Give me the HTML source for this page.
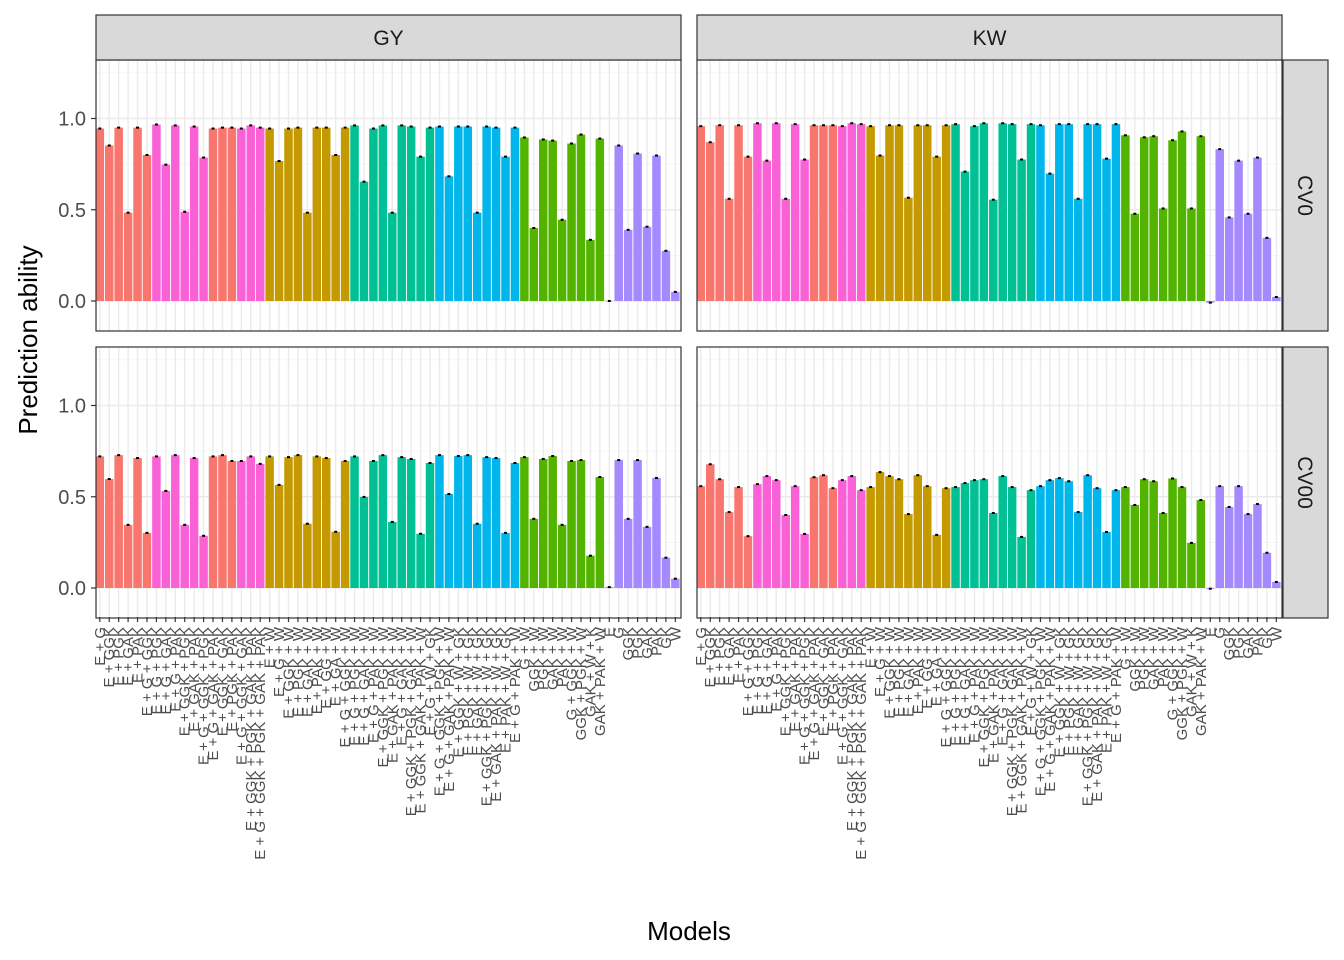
<!DOCTYPE html>
<html><head><meta charset="utf-8"><style>
body{margin:0;background:#fff}
svg{display:block;font-family:"Liberation Sans",sans-serif}
</style></head><body>
<svg id="chart" width="1344" height="960" xmlns="http://www.w3.org/2000/svg"></svg>
<script>
const facetCols = ["GY","KW"];
const facetRows = ["CV0","CV00"];
const groupColors = ["#F8766D","#FB61D7","#C49A00","#00C094","#00B6EB","#53B400","#A58AFF"];
const barGroups = [0,0,0,0,0,0,1,1,1,1,1,1,0,0,0,1,1,1,2,2,2,2,2,2,2,2,2,3,3,3,3,3,3,3,3,3,4,4,4,4,4,4,4,4,4,5,5,5,5,5,5,5,5,5,6,6,6,6,6,6,6,6];
const models = ["E + G","E + GGK","E + PGK","E + GAK","E + PAK","E + G + GGK","E + G + PGK","E + G + GAK","E + G + PAK","E + GGK + PGK","E + GAK + PAK","E + G + GGK + PGK","E + G + GAK + PAK","E + GGK + GAK","E + PGK + PAK","E + G + GGK + GAK","E + GGK + PGK + GAK + PAK","E + G + GGK + PGK + GAK + PAK",
"E + W","E + G + W","E + GGK + W","E + PGK + W","E + GAK + W","E + PAK + W","E + GG + W","E + GA + W","E + G + GGK + W",
"E + G + PGK + W","E + G + GAK + W","E + G + PAK + W","E + GGK + PGK + W","E + GAK + PAK + W","E + G + GAK + W","E + GGK + PGK + GAK + W","E + GGK + GAK + PAK + W","E + G + W + GK",
"E + G + GGK + PGK + W","E + G + GAK + PAK + W","E + GGK + W + GK","E + PGK + W + GK","E + GAK + W + GK","E + GGK + PGK + W + GK","E + GAK + PAK + W + GK","E + PAK + W + GK","E + G + PAK + W",
"G + W","GGK + W","PGK + W","GAK + W","PAK + W","G + GGK + W","GGK + PGK + W","GAK + W + K","GAK + PAK + W",
"E","G","GGK","PGK","GAK","PAK","GK","W"];
const gyCV0 = [0.945,0.852,0.95,0.484,0.95,0.80,0.967,0.747,0.962,0.489,0.956,0.786,0.945,0.95,0.95,0.945,0.962,0.95, 0.945,0.767,0.945,0.95,0.484,0.95,0.95,0.80,0.95, 0.962,0.654,0.945,0.962,0.484,0.962,0.956,0.791,0.95, 0.956,0.683,0.956,0.956,0.484,0.956,0.95,0.791,0.95, 0.896,0.40,0.885,0.879,0.445,0.863,0.912,0.335,0.89, 0.0,0.852,0.39,0.808,0.407,0.797,0.275,0.05];
const kwCV0 = [0.958,0.87,0.963,0.56,0.963,0.791,0.974,0.769,0.974,0.56,0.969,0.775,0.963,0.963,0.963,0.958,0.974,0.969, 0.958,0.797,0.963,0.963,0.566,0.963,0.963,0.791,0.963, 0.969,0.709,0.958,0.974,0.555,0.974,0.969,0.775,0.969, 0.963,0.698,0.969,0.969,0.56,0.969,0.969,0.78,0.969, 0.908,0.478,0.897,0.903,0.507,0.881,0.929,0.507,0.903, -0.009,0.832,0.458,0.769,0.478,0.786,0.346,0.022];
const gyCV00 = [0.721,0.597,0.728,0.346,0.712,0.302,0.721,0.532,0.728,0.346,0.712,0.286,0.721,0.728,0.696,0.696,0.721,0.68, 0.721,0.565,0.717,0.728,0.352,0.721,0.712,0.308,0.696, 0.721,0.499,0.696,0.728,0.362,0.717,0.707,0.297,0.685, 0.728,0.515,0.723,0.728,0.352,0.717,0.712,0.302,0.685, 0.717,0.379,0.707,0.723,0.346,0.696,0.701,0.177,0.608, 0.005,0.701,0.379,0.701,0.335,0.603,0.166,0.051];
const kwCV00 = [0.558,0.678,0.596,0.416,0.553,0.284,0.569,0.613,0.591,0.4,0.558,0.296,0.607,0.618,0.547,0.591,0.613,0.536, 0.553,0.635,0.613,0.596,0.405,0.618,0.558,0.291,0.547, 0.553,0.575,0.591,0.596,0.411,0.613,0.553,0.28,0.536, 0.558,0.591,0.602,0.585,0.416,0.618,0.547,0.307,0.536, 0.553,0.455,0.596,0.585,0.411,0.6,0.553,0.247,0.482, -0.004,0.558,0.444,0.558,0.405,0.46,0.193,0.033];
const yTicks = [0.0,0.5,1.0];
const yTickLabels = ["0.0","0.5","1.0"];
const yMinor = [0.25,0.75,1.25];

const NS="http://www.w3.org/2000/svg";
const svg=document.getElementById('chart');
function mk(tag,attrs,parent){const e=document.createElementNS(NS,tag);for(const k in attrs)e.setAttribute(k,attrs[k]);(parent||svg).appendChild(e);return e;}
const panelX=[96,697], panelW=585;
const panelY=[60,347], panelH=271;
const zeroY=[301,588], pxPerUnit=182.5;
const panelData=[[gyCV0,kwCV0],[gyCV00,kwCV00]];
const step=9.435, firstOff=3.8, barW=8.5;
function xScale(c,i){return panelX[c]+firstOff+step*i;}
function yScale(r,v){return zeroY[r]-v*pxPerUnit;}

for(let r=0;r<2;r++)for(let c=0;c<2;c++){
  const g=mk('g',{});
  
  
  const x0=panelX[c],y0=panelY[r];
  mk('rect',{x:x0,y:y0,width:panelW,height:panelH,fill:'#fff'},g);
  yMinor.forEach(v=>{const y=yScale(r,v);if(y>y0&&y<y0+panelH)mk('line',{x1:x0,x2:x0+panelW,y1:y,y2:y,stroke:'#f3f3f3','stroke-width':0.7},g);});
  for(let i=0;i<models.length;i++){const x=xScale(c,i);mk('line',{x1:x,x2:x,y1:y0,y2:y0+panelH,stroke:'#ebebeb','stroke-width':1.4},g);}
  yTicks.forEach(v=>{const y=yScale(r,v);mk('line',{x1:x0,x2:x0+panelW,y1:y,y2:y,stroke:'#ebebeb','stroke-width':1.4},g);});
  const vals=panelData[r][c];
  vals.forEach((v,i)=>{
    const x=xScale(c,i), y=yScale(r,v), y0b=yScale(r,0);
    const b=mk('rect',{x:x-barW/2,y:Math.min(y,y0b),width:barW,height:Math.max(Math.abs(y0b-y),0.3),fill:groupColors[barGroups[i]]},g);
    
    
    mk('rect',{x:x-1.5,y:y-1,width:3,height:2,fill:'#000'},g);
  });
  mk('rect',{x:x0,y:y0,width:panelW,height:panelH,fill:'none',stroke:'#333','stroke-width':1.2},g);
}
facetCols.forEach((t,c)=>{
  const g=mk('g',{});
  
  
  mk('rect',{x:panelX[c],y:15,width:panelW,height:45,fill:'#d9d9d9',stroke:'#333','stroke-width':1.2},g);
  const tx=mk('text',{x:panelX[c]+panelW/2,y:45,'text-anchor':'middle','font-size':21,fill:'#1a1a1a'},g);tx.textContent=t;
});
facetRows.forEach((t,r)=>{
  const g=mk('g',{});
  
  
  mk('rect',{x:1283,y:panelY[r],width:45,height:panelH,fill:'#d9d9d9',stroke:'#333','stroke-width':1.2},g);
  const cy=panelY[r]+panelH/2;
  const tx=mk('text',{x:1298,y:cy,'text-anchor':'middle','font-size':21,fill:'#1a1a1a',transform:`rotate(90 1298 ${cy})`},g);tx.textContent=t;
});
for(let r=0;r<2;r++){
  yTicks.forEach((v,k)=>{
    const y=yScale(r,v);
    mk('line',{x1:91,x2:96,y1:y,y2:y,stroke:'#333','stroke-width':1.2});
    const t=mk('text',{x:86,y:y+7,'text-anchor':'end','font-size':20,fill:'#4d4d4d'});
    
    
    t.textContent=yTickLabels[k];
  });
}
for(let c=0;c<2;c++){
  models.forEach((m,i)=>{
    const x=xScale(c,i);
    mk('line',{x1:x,x2:x,y1:617,y2:622,stroke:'#333','stroke-width':1.2});
    const t=mk('text',{x:x+5,y:627,'text-anchor':'end','font-size':15,fill:'#4d4d4d',transform:`rotate(-90 ${x+5} 627)`});
    
    
    t.textContent=m;
  });
}
const yt=mk('text',{x:37,y:340,'text-anchor':'middle','font-size':26,fill:'#000',transform:'rotate(-90 37 340)'});
yt.textContent='Prediction ability';
const xt=mk('text',{x:689,y:940,'text-anchor':'middle','font-size':26,fill:'#000'});
xt.textContent='Models';
</script>
</body></html>
